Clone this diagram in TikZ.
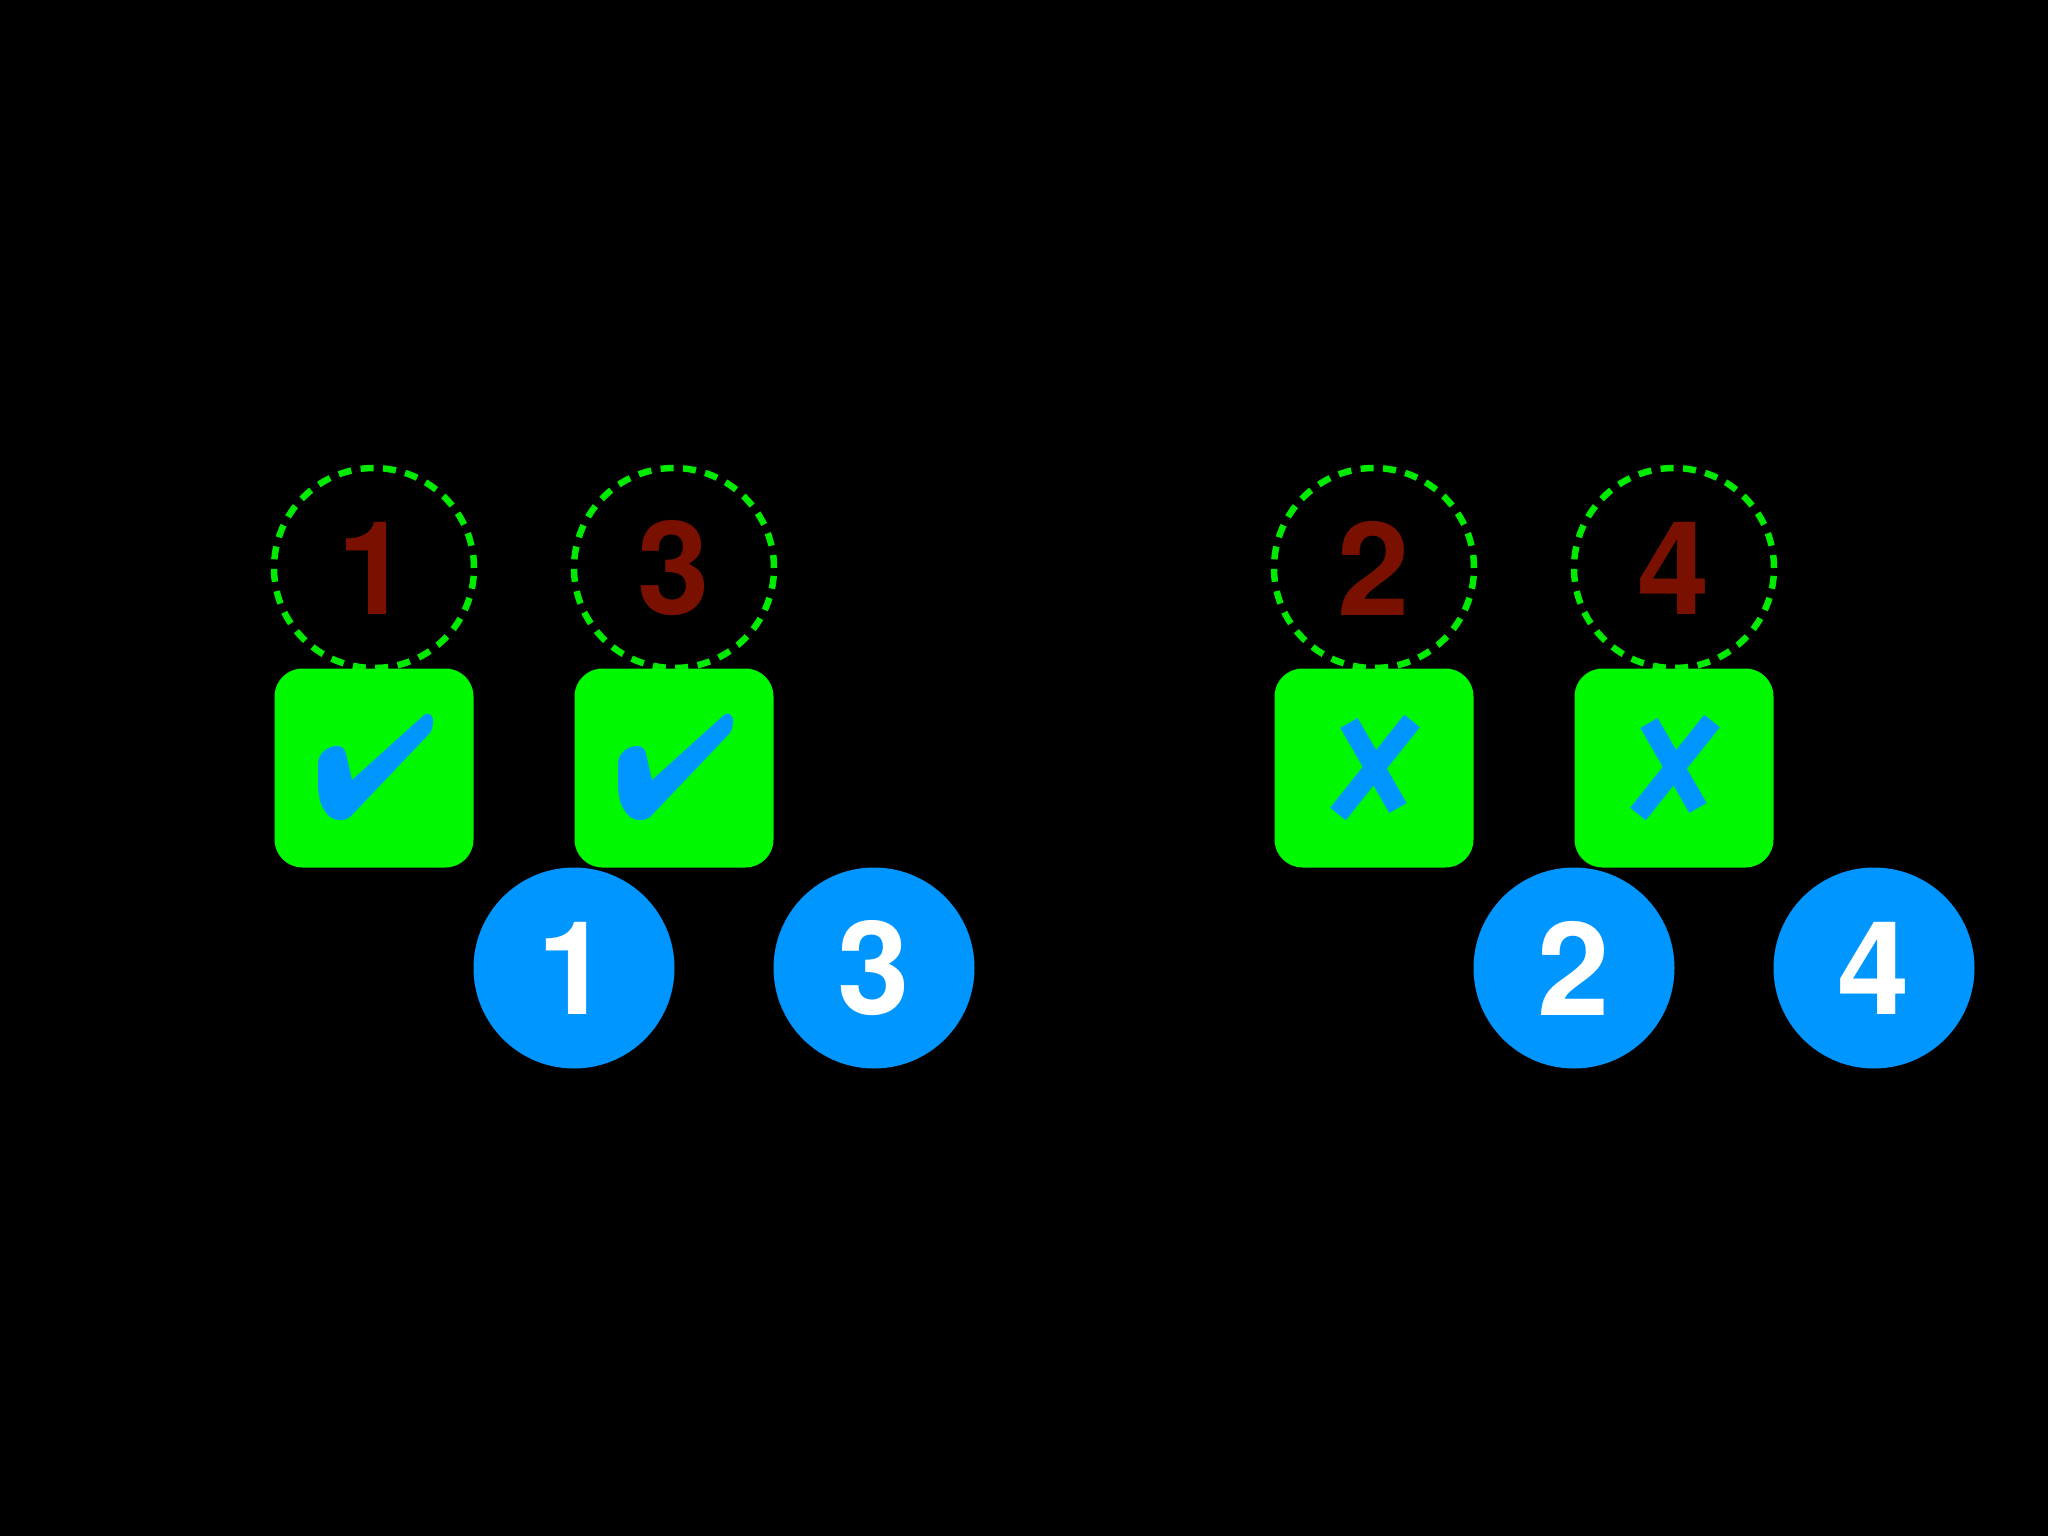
\documentclass[tikz,border=0pt]{standalone}
\usepackage{fontspec}
\setmainfont{TeX Gyre Heros}
\definecolor{bggreen}{RGB}{0,248,0}
\definecolor{dashgreen}{RGB}{0,235,0}
\definecolor{mblue}{RGB}{0,150,255}
\definecolor{dred}{RGB}{122,16,0}
\tikzset{
  dashring/.style={circle, draw=dashgreen, line width=6.5pt, dash pattern=on 13pt off 9.5pt, minimum size=200pt, inner sep=0pt, font=\bfseries\fontsize{130}{130}\selectfont, text=dred},
  greenbox/.style={rectangle, rounded corners=28pt, fill=bggreen, minimum size=199pt, inner sep=0pt},
  bluedot/.style={circle, fill=mblue, minimum size=201pt, inner sep=0pt, font=\bfseries\fontsize{130}{130}\selectfont, text=white},
  markblue/.style={fill=mblue, draw=none},
  crossstroke/.style={draw=mblue, line width=20pt, line cap=butt}
}
\begin{document}
\begin{tikzpicture}[x=1pt,y=-1pt]
\fill[black] (0,0) rectangle (2048,1536);
\useasboundingbox (0,0) rectangle (2048,1536);
% dashed rings with dark red numbers
\node[dashring] (r1) at (374,568) {1};
\node[dashring] (r3) at (674,568) {3};
\node[dashring] (r2) at (1374,568) {2};
\node[dashring] (r4) at (1674,568) {4};
% green boxes
\node[greenbox] (b1) at (374,768) {};
\node[greenbox] (b3) at (674,768) {};
\node[greenbox] (b2) at (1374,768) {};
\node[greenbox] (b4) at (1674,768) {};
% check marks
\foreach \n in {b1,b3}{
  \fill[markblue,shift={(\n.center)}]
    (-56,-4) .. controls (-56,-15) and (-46,-22) .. (-37,-22)
    .. controls (-31,-22) and (-29,-18) .. (-28,-14)
    -- (-22,12) -- (50,-53)
    .. controls (55,-57) and (60,-52) .. (59,-45)
    .. controls (58,-40) and (58,-37) .. (56,-35)
    -- (-23,48)
    .. controls (-28,53) and (-38,54) .. (-45,48)
    .. controls (-53,40) and (-56,30) .. (-56,15) -- cycle;
}
% crosses
\foreach \n in {b2,b4}{
  \begin{scope}[shift={(\n.center)}]
    \draw[crossstroke] (-25,-45) -- (24,40);
    \draw[crossstroke] (38,-47) -- (-36,46);
  \end{scope}
}
% blue dots
\node[bluedot] (c1) at (574,968) {1};
\node[bluedot] (c3) at (874,968) {3};
\node[bluedot] (c2) at (1574,968) {2};
\node[bluedot] (c4) at (1874,968) {4};
\end{tikzpicture}
\end{document}
